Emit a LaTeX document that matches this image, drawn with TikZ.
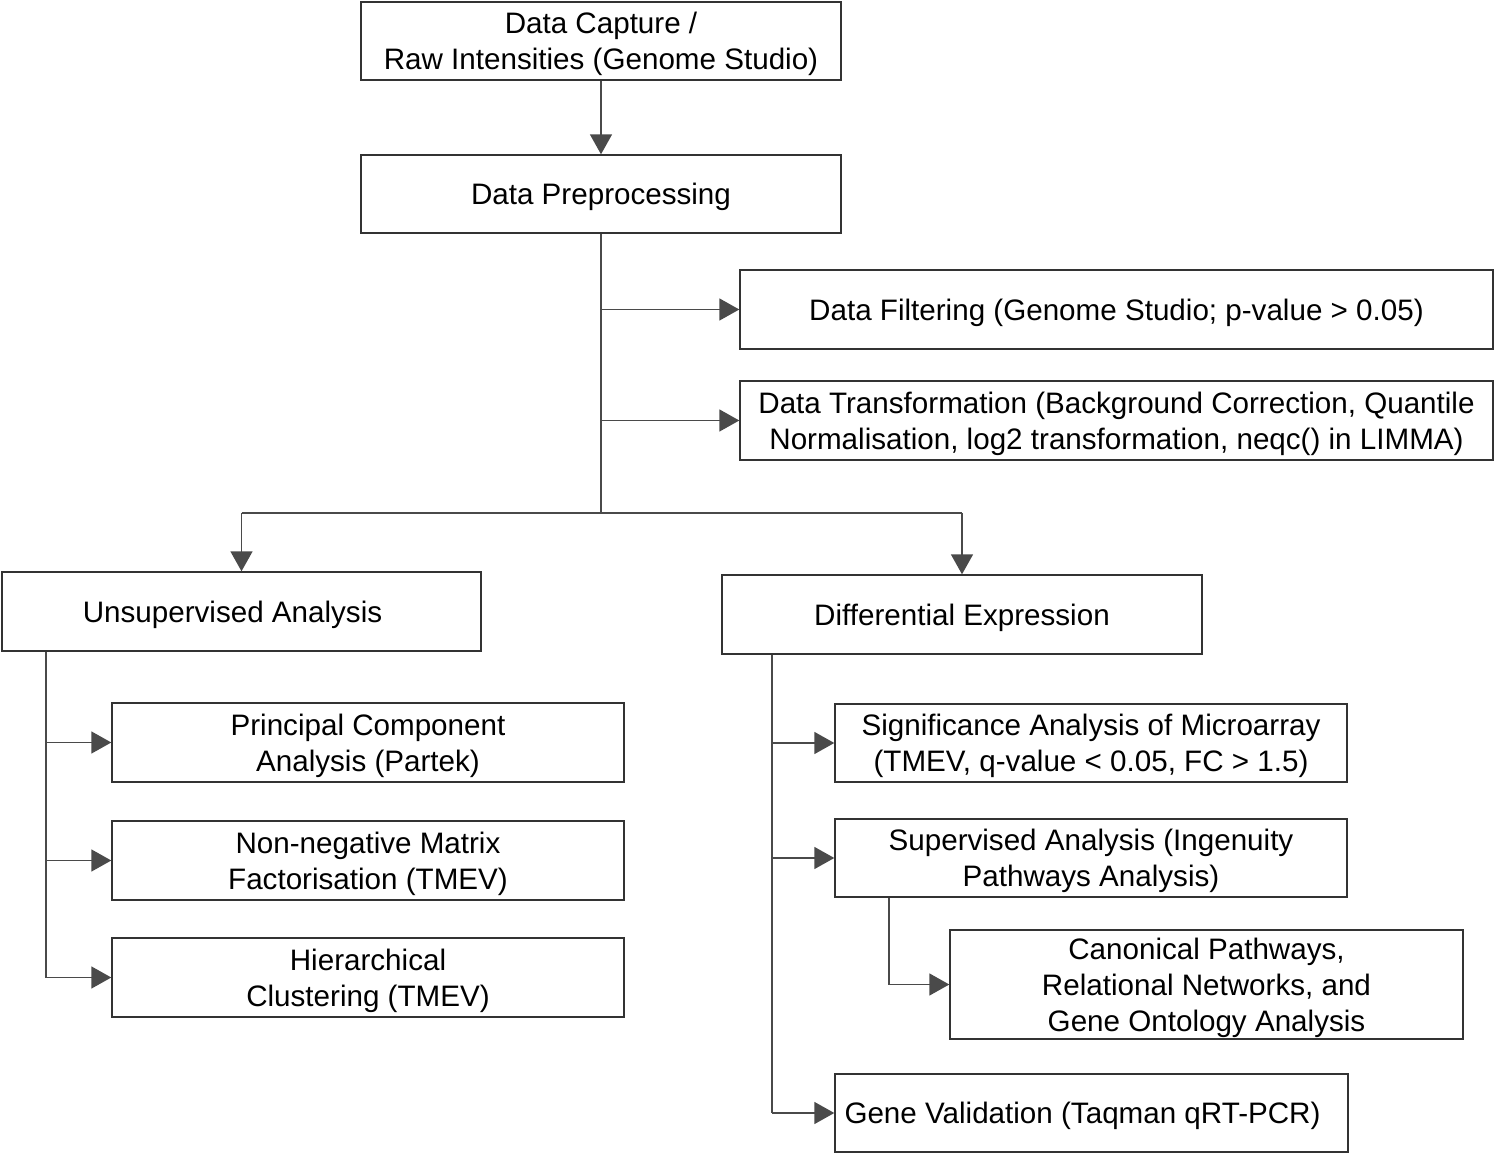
\documentclass[tikz,border=0pt]{standalone}
\usepackage{fontspec}
\setmainfont{Liberation Sans}
\usetikzlibrary{arrows.meta}
\definecolor{linegray}{HTML}{4A4A4A}
\definecolor{boxgray}{HTML}{333333}
\begin{document}
\begin{tikzpicture}[x=0.5pt,y=-0.5pt,
  box/.style={draw=boxgray,line width=0.7pt,inner sep=0pt,align=center,text depth=0pt,
    font=\fontsize{14.8}{18}\selectfont},
  conn/.style={draw=linegray,line width=0.8pt},
  arr/.style={conn,-{Triangle[length=10pt,width=11pt]}}]
\useasboundingbox (0,0) rectangle (1495,1154);
\fill[white] (0,0) rectangle (1495,1154);

\node[box,minimum width=240pt,minimum height=39pt] (cap) at (601,41) {Data Capture /\\ Raw Intensities (Genome Studio)};
\node[box,minimum width=240pt,minimum height=39pt] (pre) at (601,194) {Data Preprocessing};
\node[box,minimum width=376.5pt,minimum height=39.5pt] (filt) at (1116.5,309.5) {Data Filtering (Genome Studio; p-value > 0.05)};
\node[box,minimum width=376.5pt,minimum height=39.5pt] (trans) at (1116.5,420.5) {Data Transformation (Background Correction, Quantile\\ Normalisation, log2 transformation, neqc() in LIMMA)};
\node[box,minimum width=239.5pt,minimum height=39.5pt] (uns) at (241.5,611.5) {\hspace*{-9pt}Unsupervised Analysis};
\node[box,minimum width=240pt,minimum height=39.5pt] (dif) at (962,614.5) {Differential Expression};
\node[box,minimum width=256pt,minimum height=39.5pt] (pca) at (368,742.5) {Principal Component\\ Analysis (Partek)};
\node[box,minimum width=256pt,minimum height=39.5pt] (nmf) at (368,860.5) {Non-negative Matrix\\ Factorisation (TMEV)};
\node[box,minimum width=256pt,minimum height=39.5pt] (hier) at (368,977.5) {Hierarchical\\ Clustering (TMEV)};
\node[box,minimum width=256pt,minimum height=39pt] (sam) at (1091,743) {Significance Analysis of Microarray\\ (TMEV, q-value < 0.05, FC > 1.5)};
\node[box,minimum width=256pt,minimum height=39pt] (sup) at (1091,858) {Supervised Analysis (Ingenuity\\ Pathways Analysis)};
\node[box,minimum width=256.5pt,minimum height=54.5pt] (can) at (1206.5,984.5) {Canonical Pathways,\\ Relational Networks, and\\ Gene Ontology Analysis};
\node[box,minimum width=256.5pt,minimum height=39pt] (gene) at (1091.5,1113) {\hspace*{-9pt}Gene Validation (Taqman qRT-PCR)};

\coordinate (j) at (601,513);
\coordinate (ul) at (46,0);
\coordinate (dl) at (772,0);
\coordinate (sl) at (889,0);

\draw[arr] (cap.south) -- (pre.north);
\draw[conn] (pre.south) -- (j);
\draw[arr] (pre.south |- filt.west) -- (filt.west);
\draw[arr] (pre.south |- trans.west) -- (trans.west);
\draw[conn] (uns.north |- j) -- (dif.north |- j);
\draw[arr] (uns.north |- j) -- (uns.north);
\draw[arr] (dif.north |- j) -- (dif.north);

\draw[conn] (ul |- uns.south) -- (ul |- hier.west);
\draw[arr] (ul |- pca.west) -- (pca.west);
\draw[arr] (ul |- nmf.west) -- (nmf.west);
\draw[arr] (ul |- hier.west) -- (hier.west);

\draw[conn] (dl |- dif.south) -- (dl |- gene.west);
\draw[arr] (dl |- sam.west) -- (sam.west);
\draw[arr] (dl |- sup.west) -- (sup.west);
\draw[arr] (dl |- gene.west) -- (gene.west);

\draw[conn] (sl |- sup.south) -- (sl |- can.west);
\draw[arr] (sl |- can.west) -- (can.west);
\end{tikzpicture}
\end{document}
